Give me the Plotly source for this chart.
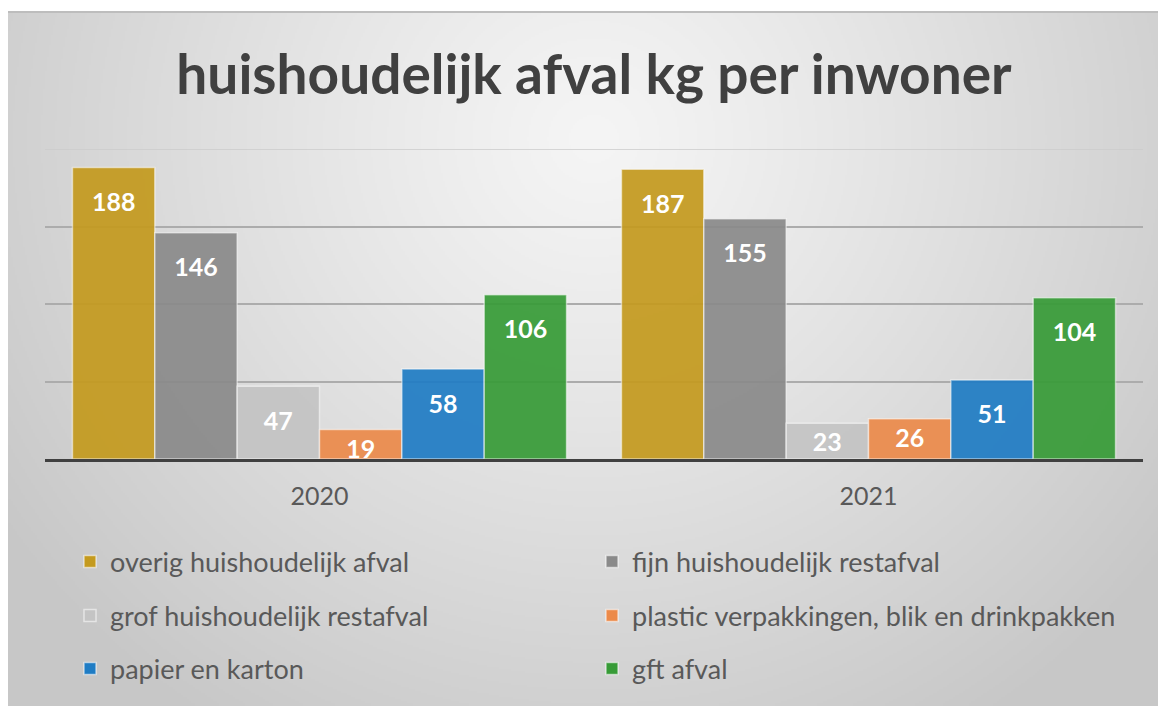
import base64, struct, zlib
import numpy as np
import plotly.graph_objects as go

# ---------------- data ----------------
years = ["2020", "2021"]
series_names = [
    "overig huishoudelijk afval",
    "fijn huishoudelijk restafval",
    "grof huishoudelijk restafval",
    "plastic verpakkingen, blik en drinkpakken",
    "papier en karton",
    "gft afval",
]
overig = [188, 187]
fijn = [146, 155]
grof = [47, 23]
plastic = [19, 26]
papier = [58, 51]
gft = [106, 104]
series_values = [overig, fijn, grof, plastic, papier, gft]
colors = ["#C49A1E", "#8A8A8A", "#C4C4C4", "#EC8A4A", "#1F7CC4", "#379B37"]
legend_ids = ["legend", "legend", "legend2", "legend2", "legend3", "legend3"]
y_max = 200
grid_vals = [0, 50, 100, 150]

# page has an 8px body margin, so the figure is 8px smaller than the window
W, H = 1158, 698
ML, MR, MT, MB = 37, 23, 141, 247
PW, PH = W - ML - MR, H - MT - MB
FONT = "Lato"


def fx(px):  # figure pixel -> plot-area x fraction
    return (px - ML) / PW


def fy(py):  # figure pixel -> plot-area y fraction
    return (H - MB - py) / PH


# ---------------- background gradient (style only) ----------------
def png_bytes(arr):
    h, w, _ = arr.shape
    raw = b"".join(b"\x00" + arr[r].tobytes() for r in range(h))

    def chunk(t, d):
        return struct.pack(">I", len(d)) + t + d + struct.pack(">I", zlib.crc32(t + d) & 0xFFFFFFFF)

    return (b"\x89PNG\r\n\x1a\n"
            + chunk(b"IHDR", struct.pack(">IIBBBBB", w, h, 8, 2, 0, 0, 0))
            + chunk(b"IDAT", zlib.compress(raw, 9))
            + chunk(b"IEND", b""))


bx0, by0 = 0, 4
gw, gh = (W - bx0) // 2, (H - by0) // 2
yy, xx = np.mgrid[0:gh, 0:gw].astype(float)
px = bx0 + xx * 2
py = by0 + yy * 2
d = np.sqrt(((px - 585) / 720.0) ** 2 + ((py - 130) / 700.0) ** 2)
d = np.clip(d, 0, 1)
val = 245 - (245 - 199) * d ** 1.15
img = np.clip(np.stack([val, val, val], axis=-1), 0, 255).astype(np.uint8)
bg_src = "data:image/png;base64," + base64.b64encode(png_bytes(img)).decode()

# ---------------- figure ----------------
fig = go.Figure()
for name, vals, col, lg in zip(series_names, series_values, colors, legend_ids):
    texts = [f"<span style='font-size:8px'>&nbsp;</span><br>{v}" if v >= 40 else str(v) for v in vals]
    fig.add_trace(go.Bar(
        name=name,
        x=years,
        y=vals,
        text=texts,
        textposition="inside",
        insidetextanchor="end",
        constraintext="none",
        textangle=0,
        textfont=dict(family=FONT, size=25, color="white", weight="bold"),
        marker=dict(color=col, opacity=0.92, line=dict(color="rgba(255,255,255,0.55)", width=1.5)),
        legend=lg,
        hoverinfo="x+y+name",
    ))

legend_common = dict(
    orientation="h",
    xanchor="left",
    yanchor="middle",
    x=fx(62),
    bgcolor="rgba(0,0,0,0)",
    font=dict(family=FONT, size=27, color="#595959"),
    entrywidth=477,
    entrywidthmode="pixels",
    itemclick=False,
    itemdoubleclick=False,
)

fig.update_layout(
    width=W,
    height=H,
    margin=dict(l=ML, r=MR, t=MT, b=MB, autoexpand=False),
    paper_bgcolor="white",
    plot_bgcolor="rgba(0,0,0,0)",
    barmode="group",
    bargap=0.1,
    bargroupgap=0,
    showlegend=True,
    title=dict(
        text="<b>huishoudelijk afval kg per inwoner</b>",
        xref="container", yref="container",
        x=586 / W,
        xanchor="center",
        y=1 - 67 / H,
        yanchor="middle",
        font=dict(family=FONT, size=55, color="#404040"),
    ),
    legend=dict(legend_common, y=fy(554)),
    legend2=dict(legend_common, y=fy(608)),
    legend3=dict(legend_common, y=fy(661)),
    images=[dict(
        source=bg_src,
        xref="paper", yref="paper",
        x=fx(bx0),
        y=fy(by0),
        sizex=(W - bx0) / PW,
        sizey=(H - by0) / PH,
        xanchor="left", yanchor="top",
        sizing="stretch",
        layer="below",
    )],
    xaxis=dict(
        type="category",
        showgrid=False,
        showline=True,
        linecolor="#404040",
        linewidth=3,
        ticks="",
        ticklabelstandoff=13,
        tickfont=dict(family=FONT, size=25, color="#595959"),
        fixedrange=True,
    ),
    yaxis=dict(
        range=[0, y_max],
        tickmode="array",
        tickvals=grid_vals,
        showticklabels=False,
        showgrid=True,
        gridcolor="#ACACAC",
        gridwidth=1.5,
        zeroline=False,
        showline=False,
        fixedrange=True,
    ),
    shapes=[
        dict(
            type="line", xref="paper", yref="paper",
            x0=fx(0), x1=fx(W),
            y0=fy(by0), y1=fy(by0),
            line=dict(color="#BDBDBD", width=2),
            layer="below",
        ),
        # light top gridline at the axis maximum
        dict(
            type="line", xref="paper", yref="y",
            x0=0, x1=1, y0=y_max, y1=y_max,
            line=dict(color="#CBCBCB", width=1.5),
            layer="below",
        ),
    ],
)

fig.write_html("out.html")
